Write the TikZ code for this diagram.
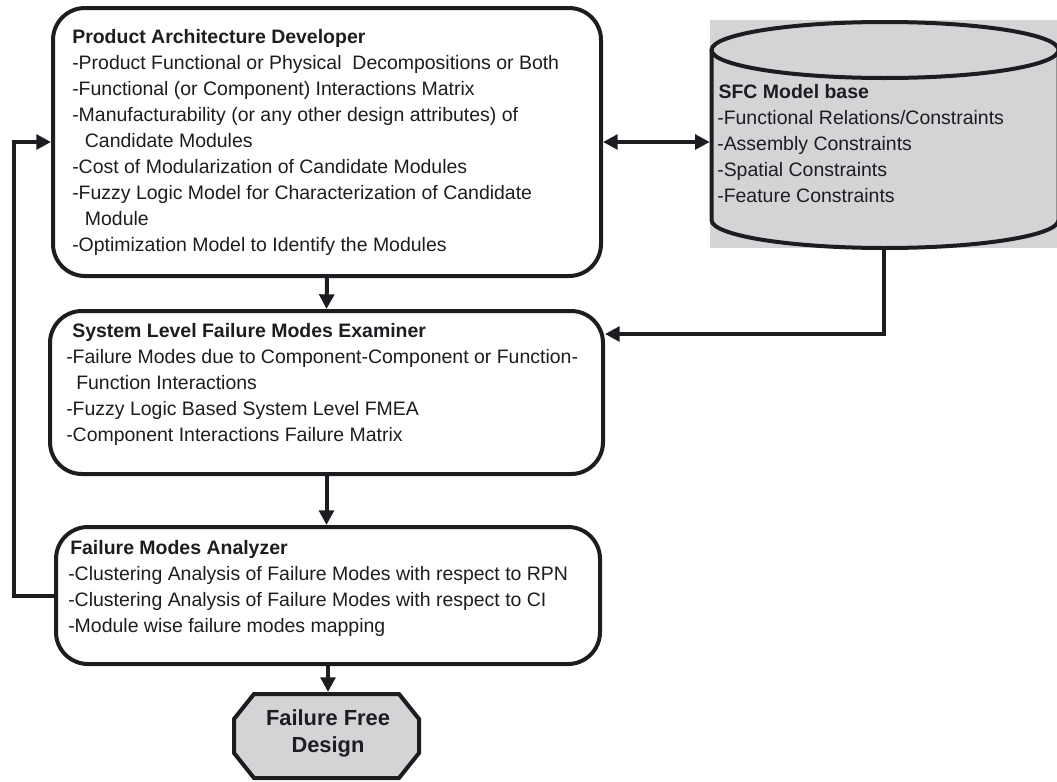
\documentclass[tikz,border=0pt]{standalone}
\usepackage{fontspec}
\setmainfont{Liberation Sans}
\usetikzlibrary{arrows.meta,calc,backgrounds}
\definecolor{ink}{RGB}{30,28,32}
\definecolor{shade}{RGB}{211,212,214}

\begin{document}
\begin{tikzpicture}[x=0.75pt,y=-0.75pt,
  box/.style={draw=ink, line width=3pt, rounded corners=24pt, fill=white,
              inner sep=0pt},
  txt/.style={anchor=north west, align=left, inner sep=0pt, text=ink,
              font=\fontsize{14.6}{19.5}\selectfont},
  tip/.tip={Triangle[length=11pt,width=11pt]},
  arr/.style={draw=ink, line width=3pt, -tip},
  darr/.style={draw=ink, line width=3pt, tip-tip},
  octo/.style={draw=ink, line width=3pt, fill=shade, line join=miter},
  endlabel/.style={align=center, text=ink, inner sep=0pt,
                   font=\fontsize{16.4}{20.2}\selectfont\bfseries}
]
\useasboundingbox (0,0) rectangle (1057,782);

% main process boxes
\node[box, minimum width=411pt, minimum height=201pt] (pad) at (327,142) {};
\node[box, minimum width=414.75pt, minimum height=122.25pt] (sle) at (326.5,392.5) {};
\node[box, minimum width=408pt, minimum height=102.75pt] (fma) at (328,595.5) {};

\node[txt] (padtxt) at (72,24.8) {\strut\textbf{Product Architecture Developer}\\
-Product Functional or Physical\ \ Decompositions or Both\\
-Functional (or Component) Interactions Matrix\\
-Manufacturability (or any other design attributes) of\\
\hspace*{9.5pt}Candidate Modules\\
-Cost of Modularization of Candidate Modules\\
-Fuzzy Logic Model for Characterization of Candidate\\
\hspace*{9.5pt}Module\\
-Optimization Model to Identify the Modules};

\node[txt] (sletxt) at (66,318.8) {\strut\hspace*{4.5pt}\textbf{System Level Failure Modes Examiner}\\
-Failure Modes due to Component-Component or Function-\\
\hspace*{7.5pt}Function Interactions\\
-Fuzzy Logic Based System Level FMEA\\
-Component Interactions Failure Matrix};

\node[txt] (fmatxt) at (68,535.8) {\strut\hspace*{1.5pt}\textbf{Failure Modes Analyzer}\\
-Clustering Analysis of Failure Modes with respect to RPN\\
-Clustering Analysis of Failure Modes with respect to CI\\
-Module wise failure modes mapping};

% model base: shaded panel with a cylinder drawn on it
\node[fill=shade, inner sep=0pt, minimum width=260.25pt, minimum height=171pt] (sfc) at (883.5,134) {};
\draw[draw=ink, line width=3pt, fill=shade]
  (711.5,50) -- (711.5,220) arc[start angle=180, end angle=360, x radius=130.125pt, y radius=21pt]
  -- (1058.5,50);
\draw[draw=ink, line width=3pt, fill=shade] (885,50) ellipse[x radius=130.125pt, y radius=21pt];

\node[txt] (sfctxt) at (717,79.8) {\strut\hspace*{1pt}\textbf{SFC Model base}\\
-Functional Relations/Constraints\\
-Assembly Constraints\\
-Spatial Constraints\\
-Feature Constraints};

% terminal: octagon drawn around a plain node
\node[inner sep=0pt, outer sep=0pt, minimum width=138.75pt, minimum height=63pt] (ffd) at (326.5,736) {};
\begin{scope}[on background layer]
\draw[octo]
  ($(ffd.north west)+(20,0)$) -- ($(ffd.north east)+(-20,0)$)
  -- ($(ffd.north east)+(0,25)$) -- ($(ffd.south east)+(0,-25)$)
  -- ($(ffd.south east)+(-20,0)$) -- ($(ffd.south west)+(20,0)$)
  -- ($(ffd.south west)+(0,-25)$) -- ($(ffd.north west)+(0,25)$) -- cycle;
\end{scope}
\node[endlabel] (ffdtxt) at (328,733) {Failure Free\\Design};

% connectors
\draw[darr] (pad.east) -- (sfc.west |- pad.east);
\draw[arr] (pad.south) -- (sle.north);
\draw[arr] (sle.south) -- (sle.south |- fma.north);
\draw[arr, shorten >=1.5pt] (fma.south) -- (fma.south |- ffd.north);
\draw[arr] (sfc.south) |- ([yshift=-18.75pt]sle.north east);
\draw[arr] (fma.west) -- ++(-40,0) |- (pad.west);
\end{tikzpicture}
\end{document}
